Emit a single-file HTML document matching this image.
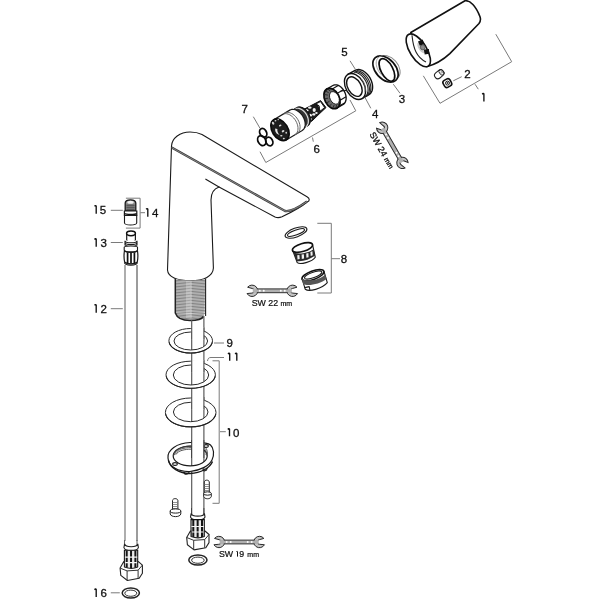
<!DOCTYPE html>
<html><head><meta charset="utf-8">
<style>
html,body{margin:0;padding:0;background:#fff;width:600px;height:600px;overflow:hidden}
svg{display:block;will-change:transform}
text{font-family:"Liberation Sans",sans-serif;fill:#111;stroke:#111;stroke-width:0.3}
.o{fill:none;stroke:#1a1a1a;stroke-width:1.1;stroke-linejoin:round;stroke-linecap:round}
.b{fill:none;stroke:#111;stroke-width:1.6;stroke-linejoin:round;stroke-linecap:round}
.w{fill:#fff;stroke:#1a1a1a;stroke-width:1.1;stroke-linejoin:round}
.wb{fill:#fff;stroke:#111;stroke-width:1.6;stroke-linejoin:round}
.l{fill:none;stroke:#7a7a7a;stroke-width:1}
.g{fill:none;stroke:#888;stroke-width:0.7}
.lab{font-size:11.5px}
.sw{font-size:8.8px;stroke-width:0.22}
.mm{font-size:7px}
</style></head>
<body>
<svg width="600" height="600" viewBox="0 0 600 600">
<defs>
<g id="wr">
<path d="M-24.68,-3.59 A5.70,5.70 0 1,1 -25.24,2.76 L-20.45,2.29 A2.30,2.30 0 0,0 -20.05,-2.29 Z M25.24,2.76 A5.70,5.70 0 1,1 24.68,-3.59 L20.05,-2.29 A2.30,2.30 0 0,0 20.45,2.29 Z" fill="#c4c4c4" stroke="#2a2a2a" stroke-width="1"/>
<rect x="-19.5" y="-1.9" width="39" height="3.8" fill="#b0b0b0"/>
<path d="M-15.4,-1.9 H15.4 M-15.4,1.9 H15.4" stroke="#2a2a2a" stroke-width="0.95"/>
<circle cx="-12.5" cy="0" r="0.95" fill="#fff"/><circle cx="-8.5" cy="0" r="0.95" fill="#fff"/>
<circle cx="12.5" cy="0" r="0.95" fill="#fff"/><circle cx="8.5" cy="0" r="0.95" fill="#fff"/>
</g>
<g id="wr2">
<path d="M-25.94,-0.40 A5.70,5.70 0 1,1 -22.75,5.12 L-19.10,1.99 A2.30,2.30 0 0,0 -21.40,-1.99 Z M25.94,0.40 A5.70,5.70 0 1,1 22.75,-5.12 L19.10,-1.99 A2.30,2.30 0 0,0 21.40,1.99 Z" fill="#c4c4c4" stroke="#2a2a2a" stroke-width="1"/>
<rect x="-19.5" y="-1.9" width="39" height="3.8" fill="#b0b0b0"/>
<path d="M-15.4,-1.9 H15.4 M-15.4,1.9 H15.4" stroke="#2a2a2a" stroke-width="0.95"/>
<circle cx="-12.5" cy="0" r="0.95" fill="#fff"/><circle cx="-8.5" cy="0" r="0.95" fill="#fff"/>
<circle cx="12.5" cy="0" r="0.95" fill="#fff"/><circle cx="8.5" cy="0" r="0.95" fill="#fff"/>
</g>
</defs>

<!-- ===== Faucet body ===== -->
<path class="w" d="M167.5,270 L171.5,146 C172,138 180,132 190,132 C195,132 199,133 202,134.5 L307,196.8 C310,198.5 310,201 307,202 C303,205.5 293,211.5 282,216.8 C279,218 277,217.8 275,217 L219,187 C213,189 211,194 211,200 L213.4,268 C213,276 204,280.8 190.5,280.8 C177,280.8 168,277 167.5,270 Z"/>
<path d="M205.8,179.2 L219,187" class="o"/>
<path d="M171.7,147.6 L285,211 C290,212 300,206.5 307,201.5" fill="none" stroke="#3a3a3a" stroke-width="2.3"/>
<path d="M171.7,147.6 L285,211 C290,212 300,206.5 307,201.5" fill="none" stroke="#bbb" stroke-width="0.6"/>

<!-- threads -->
<g>
<path d="M175.3,278.7 L175.3,313 C177,318 182,320.5 190,320.5 C197,320.5 202,319 203.5,316.5 L205.6,278.7 C200,281 182,281 175.3,278.7 Z" fill="#d6d6d6"/>
<path stroke="#6e6e6e" stroke-width="0.8" fill="none" d="M175.5,280.3 Q190.5,281.9 205.5,280.3 M175.5,281.8 Q190.5,283.4 205.5,281.8 M175.5,283.3 Q190.5,284.9 205.5,283.3 M175.5,284.8 Q190.5,286.4 205.5,284.8 M175.5,286.3 Q190.5,287.9 205.5,286.3 M175.5,287.8 Q190.5,289.4 205.5,287.8 M175.5,289.3 Q190.5,290.9 205.5,289.3 M175.5,290.8 Q190.5,292.4 205.5,290.8 M175.5,292.3 Q190.5,293.9 205.5,292.3 M175.5,293.8 Q190.5,295.4 205.5,293.8 M175.5,295.3 Q190.5,296.9 205.5,295.3 M175.5,296.8 Q190.5,298.4 205.5,296.8 M175.5,298.3 Q190.5,299.9 205.5,298.3 M175.5,299.8 Q190.5,301.4 205.5,299.8 M175.5,301.3 Q190.5,302.9 205.5,301.3 M175.5,302.8 Q190.5,304.4 205.5,302.8 M175.5,304.3 Q190.5,305.9 205.5,304.3 M175.5,305.8 Q190.5,307.4 205.5,305.8 M175.5,307.3 Q190.5,308.9 205.5,307.3 M175.5,308.8 Q190.5,310.4 205.5,308.8 M175.5,310.3 Q190.5,311.9 205.5,310.3 M175.5,311.8 Q190.5,313.4 205.5,311.8 M176,313.6 Q190.5,315.2 205,313.6 M177,315.1 Q190.5,316.7 204,315.1 M178.5,316.6 Q190.5,318.2 203,316.6 M181,318.1 Q190.5,319.7 201.5,318.1"/>
<rect x="186" y="281" width="6" height="37" fill="#fff" opacity="0.25"/>
<path d="M175.3,278.5 L175.3,313 C177,318 182,320.5 190,320.5 C197,320.5 202,319 203.5,316.5" fill="none" stroke="#222" stroke-width="1.5"/>
<path d="M205.6,278.5 L205.6,316" fill="none" stroke="#222" stroke-width="1.1"/>
</g>

<!-- rod -->
<path d="M191.7,320 L191.7,516 M203.9,316 L203.9,516" fill="none" stroke="#555" stroke-width="1.15"/>

<!-- washer 9 -->
<g>
<path fill="#fff" fill-rule="evenodd" stroke="#2a2a2a" stroke-width="1" d="M168.90,340.80 A21.8,12.3 0 1,0 212.50,340.80 A21.8,12.3 0 1,0 168.90,340.80 Z M174.00,341.00 A16.8,9 0 1,0 207.60,341.00 A16.8,9 0 1,0 174.00,341.00 Z"/>
<path d="M169.10,342.40 A21.8,12.3 0 0,0 212.30,342.40" fill="none" stroke="#222" stroke-width="1.05"/>
<rect x="191.7" y="327.50" width="12.2" height="11.80" fill="#fff"/><path d="M191.7,327.50 V339.30 M203.9,327.50 V339.30" stroke="#555" stroke-width="1.15"/>
</g>
<!-- washer 11 -->
<g>
<path fill="#fff" fill-rule="evenodd" stroke="#2a2a2a" stroke-width="1" d="M166.00,374.80 A24.7,13.6 0 1,0 215.40,374.80 A24.7,13.6 0 1,0 166.00,374.80 Z M173.30,375.00 A17.7,10 0 1,0 208.70,375.00 A17.7,10 0 1,0 173.30,375.00 Z"/>
<path d="M166.20,376.40 A24.7,13.6 0 0,0 215.20,376.40" fill="none" stroke="#222" stroke-width="1.05"/>
<rect x="191.7" y="360.20" width="12.2" height="12.10" fill="#fff"/><path d="M191.7,360.20 V372.30 M203.9,360.20 V372.30" stroke="#555" stroke-width="1.15"/>
</g>
<!-- washer 10 -->
<g>
<path fill="#fff" fill-rule="evenodd" stroke="#2a2a2a" stroke-width="1" d="M165.40,412.50 A25.3,14.5 0 1,0 216.00,412.50 A25.3,14.5 0 1,0 165.40,412.50 Z M173.40,412.00 A17.3,9.7 0 1,0 208.00,412.00 A17.3,9.7 0 1,0 173.40,412.00 Z"/>
<path d="M165.60,414.10 A25.3,14.5 0 0,0 215.80,414.10" fill="none" stroke="#222" stroke-width="1.05"/>
<rect x="191.7" y="397.00" width="12.2" height="12.60" fill="#fff"/><path d="M191.7,397.00 V409.60 M203.9,397.00 V409.60" stroke="#555" stroke-width="1.15"/>
</g>

<!-- mounting plate -->
<g>
<path fill="#fff" fill-rule="evenodd" stroke="#1a1a1a" stroke-width="1.2" d="M168,458 C167,450 177,443 190,442.5 C199,442 207,442 210.5,445 C214,448 214.5,455 212,460 C209,466 200,470.5 190,471.5 C179,472 168.5,467 168,458 Z M173.2,456 A17,9.8 0 1,0 207.2,456 A17,9.8 0 1,0 173.2,456 Z"/>
<path d="M173.5,456 C174,449 184,446 191,446 M174.5,455 C176,449.5 184,447.6 191,447.6 M176,454.5 C178,450.5 185,449.2 191,449.2 M204,446.6 C207,448 208,452 207,456 M204,448.4 C206,449.5 206.6,452 206,455" fill="none" stroke="#444" stroke-width="0.9"/>
<path d="M168.5,460.5 C170,467.5 179,473.5 190,473.5 C201,473 210,468 212.5,461.5" fill="none" stroke="#1a1a1a" stroke-width="1.4"/>
<ellipse cx="175" cy="464" rx="2.3" ry="1.4" class="o" stroke-width="0.9"/>
<ellipse cx="206" cy="446" rx="2.3" ry="1.4" class="o" stroke-width="0.9"/>
<path d="M184,472 C184,475 188,475 189,472.5 M203,469 C203,472 207,471 207,468.5" class="o" stroke-width="0.9"/>
<rect x="191.7" y="440" width="12.1" height="18" fill="#fff"/>
<path d="M191.7,440 V458 M203.8,440 V458" stroke="#333" stroke-width="1.05"/>
</g>

<!-- screws -->
<g>
<path d="M204.3,493 V482 C204.5,479.5 209,479.5 209.3,482 V493 Z" fill="#fff" stroke="#222" stroke-width="1"/>
<path d="M204.5,484.5 h4.6 M204.5,486.5 h4.6 M204.5,488.5 h4.6 M204.5,490.5 h4.6" stroke="#777" stroke-width="0.8"/>
<path d="M203.7,493.5 V496.5 C204.5,499.5 210.5,499.5 211.3,496.5 V493.5" fill="#fff" stroke="#222" stroke-width="1"/>
<ellipse cx="207.5" cy="493.5" rx="3.8" ry="1.7" fill="#fff" stroke="#222" stroke-width="1"/>
<path d="M172.5,510 V500.5 C172.7,498 177.6,498 177.9,500.5 V510 Z" fill="#fff" stroke="#222" stroke-width="1"/>
<path d="M172.7,502.5 h5 M172.7,504.5 h5 M172.7,506.5 h5 M172.7,508.5 h5" stroke="#777" stroke-width="0.8"/>
<path d="M170.2,511 V514 C171,517.5 180,517.5 180.8,514 V511" fill="#fff" stroke="#222" stroke-width="1"/>
<ellipse cx="175.5" cy="511" rx="5.3" ry="2.1" fill="#fff" stroke="#222" stroke-width="1"/>
</g>

<!-- bottom connection + nut -->
<g>
<rect x="191.7" y="508" width="12.1" height="8" fill="#fff"/>
<path d="M191.7,508 V514 M203.8,508 V514" stroke="#333" stroke-width="1.05"/>
<g id="fit">
<path d="M191.2,513.3 C192,517 203.5,517 204.4,513.3 L205,517 C203.5,521 192,521 190.5,517 Z" fill="#fff" stroke="#222" stroke-width="1.1"/>
<path d="M191,519.6 L204.3,519.6 L204.3,538 L191,538 Z" fill="#e8e8e8" stroke="#111" stroke-width="1.1"/>
<path d="M193.3,520 V537.5 M197.65,520 V537.5 M202,520 V537.5" stroke="#151515" stroke-width="2"/>
<path d="M191.5,526.5 H203.8 M191.5,532 H203.8" stroke="#f4f4f4" stroke-width="1.1"/>
<path d="M186.7,537.5 L190.4,531 L191,531 L191,536.5 C195,538 201,538 204.3,536.5 L204.3,531 L205,531 L209,534.5 L209,542.6 L205.8,547.7 L194,549.9 L187.4,544.8 Z" fill="#fff" stroke="#222" stroke-width="1.1" stroke-linejoin="round"/>
<path d="M186.7,537.5 L193.7,540.3 L204.7,539.6 L209,534.5 M193.7,540.3 V549.5 M204.7,539.6 V547.8" fill="none" stroke="#333" stroke-width="1"/>
</g>
<ellipse cx="197.9" cy="560" rx="9.1" ry="5.1" fill="none" stroke="#222" stroke-width="1.5"/>
<ellipse cx="197.9" cy="560.2" rx="6.3" ry="3.1" fill="none" stroke="#333" stroke-width="1"/>
</g>

<!-- SW 19 wrench -->
<use href="#wr" transform="translate(239.2 542)"/>
<text x="219" y="556.5" class="sw">SW</text><path d="M236.30,551.80 C236.80,551.20 237.20,551.00 237.50,551.55 V556.60" fill="none" stroke="#111" stroke-width="1.0"/><text x="239.3" y="556.5" class="sw">9</text><text x="247.3" y="556.5" class="sw mm">mm</text>

<!-- labels center -->
<text x="226.5" y="346.7" class="lab">9</text>
<path d="M228.00,353.90 C228.70,353.20 229.30,352.90 229.70,353.60 V360.80" fill="none" stroke="#111" stroke-width="1.35"/><path d="M235.10,353.90 C235.80,353.20 236.40,352.90 236.80,353.60 V360.80" fill="none" stroke="#111" stroke-width="1.35"/>
<path d="M227.80,429.40 C228.50,428.70 229.10,428.40 229.50,429.10 V436.30" fill="none" stroke="#111" stroke-width="1.35"/><text x="233.0" y="436.7" class="lab">0</text>
<path d="M214,343 H224 M207.5,361 C208,358 209,357.5 211,357.5 H224 M212.5,360.8 H219.2 V503.3 H212.5 M220,431.7 H225.8" class="l"/>

<!-- ===== left hose ===== -->
<path d="M125,265 L125,546" fill="none" stroke="#777" stroke-width="1.2"/><path d="M137,265 L137,546" fill="none" stroke="#5a5a5a" stroke-width="1.2"/>
<!-- 15 -->
<g>
<path d="M125.2,203 C125.2,198.8 135.8,198.8 135.8,203 L135.8,211 L125.2,211 Z" fill="#8c8c8c" stroke="#1a1a1a" stroke-width="1.3"/>
<ellipse cx="130.5" cy="202.3" rx="3.2" ry="1.5" fill="#f0f0f0"/>
<path d="M126.3,205.2 H134.7 M126.3,207.2 H134.7 M126.3,209.2 H134.7" stroke="#3a3a3a" stroke-width="0.9"/>
<path d="M124.4,211 L136.8,211 L136.8,215.5 L124.4,215.5 Z" fill="#fff" stroke="#1a1a1a" stroke-width="1.2"/>
<path d="M124.4,213.6 C126,214.8 135,214.8 136.8,213.6" fill="none" stroke="#111" stroke-width="1.3"/>
<path d="M124.5,215.5 L136.7,215.5 L136.7,223 C136.3,225.6 125,225.6 124.5,223 Z" class="w"/>
</g>
<path d="M125.9,198.2 H140.1 V228.1 H125.9" class="l"/>
<!-- 13 -->
<g>
<path d="M126.7,233.3 L126.7,240 C127,242.5 135,242.5 135.4,240 L135.4,233.3 Z" fill="#fff" stroke="#1a1a1a" stroke-width="1.2"/>
<ellipse cx="131" cy="233.3" rx="4.4" ry="2.4" fill="#fff" stroke="#111" stroke-width="1.5"/>
<path d="M125,240.5 L137,240.5 L137,247 L125,247 Z" fill="#fff"/>
<path d="M125,240.8 C125.5,243.4 136.5,243.4 137,240.8 M125,242.6 C125.5,245.2 136.5,245.2 137,242.6 M125,244.4 C125.5,247.0 136.5,247.0 137,244.4 M125,240.8 V245.5 M137,240.8 V245.5" fill="none" stroke="#1a1a1a" stroke-width="1.1"/>
<path d="M124.2,247.2 C124.5,245.5 137.2,245.5 137.5,247.2 L137.5,250 C137.2,252.5 124.5,252.5 124.2,250 Z" fill="#fff" stroke="#1a1a1a" stroke-width="1.1"/>
<path d="M124.4,251 C123.8,255 123.8,258 124.6,262 C127,264.5 135,264.5 137.3,262 C138.1,258 138.1,255 137.5,251 C135,253 127,253 124.4,251 Z" fill="#fff" stroke="#1a1a1a" stroke-width="1.2"/>
<path d="M127.6,252.5 V263 M131,252.8 V263.5 M134.4,252.5 V263" stroke="#111" stroke-width="1.7"/>
<path d="M124.4,262.5 C124.6,266 137.2,266 137.3,262.5" fill="none" stroke="#1a1a1a" stroke-width="1.1"/>
</g>
<!-- bottom fittings -->
<rect x="123" y="541" width="16" height="6" fill="#fff"/>
<path d="M124.5,540 V545 M137,540 V545" fill="none" stroke="#666" stroke-width="1.05"/>
<use href="#fit" transform="translate(-66.6 30.6)"/>
<ellipse cx="130.8" cy="593" rx="8.6" ry="5.1" fill="none" stroke="#222" stroke-width="1.5"/>
<ellipse cx="130.8" cy="593.2" rx="6" ry="3.1" fill="none" stroke="#333" stroke-width="1"/>
<!-- labels left -->
<path d="M94.50,206.30 C95.20,205.60 95.80,205.30 96.20,206.00 V213.70" fill="none" stroke="#111" stroke-width="1.35"/><text x="99.8" y="214.2" class="lab">5</text>
<path d="M146.10,209.30 C146.80,208.60 147.40,208.30 147.80,209.00 V216.70" fill="none" stroke="#111" stroke-width="1.35"/><text x="151.9" y="217.2" class="lab">4</text>
<path d="M94.50,239.40 C95.20,238.70 95.80,238.40 96.20,239.10 V246.80" fill="none" stroke="#111" stroke-width="1.35"/><text x="100.4" y="247.2" class="lab">3</text>
<path d="M94.50,305.30 C95.20,304.60 95.80,304.30 96.20,305.00 V312.70" fill="none" stroke="#111" stroke-width="1.35"/><text x="100.5" y="313" class="lab">2</text>
<path d="M94.50,589.70 C95.20,589.00 95.80,588.70 96.20,589.40 V597.10" fill="none" stroke="#111" stroke-width="1.35"/><text x="100.4" y="597.2" class="lab">6</text>
<path d="M110.8,210.3 H122.8 M140.3,212.7 H145 M110.8,242.5 H122.8 M110.8,308.7 H122.8 M110.8,592.8 H119.8" class="l"/>

<!-- ===== aerator 8 ===== -->
<g>
<ellipse cx="296" cy="232.5" rx="11.5" ry="4.5" transform="rotate(-20 296 232.5)" class="o" stroke-width="1.4"/>
<ellipse cx="296" cy="232.5" rx="9" ry="2.5" transform="rotate(-20 296 232.5)" class="o" stroke-width="1.2"/>
</g>
<g>
<path d="M292.7,250.5 L297.3,262.7 C300,265 312,262 315.3,257.3 L312.7,245.3" class="w"/>
<ellipse cx="302.5" cy="247.5" rx="10.5" ry="4" transform="rotate(-17 302.5 247.5)" class="wb" stroke-width="1.8"/>
<path d="M293.6,252.6 C300,255 309,252.5 313.6,249.2 L315,255.5 C310,259.5 302,262 296.6,261 Z" fill="#2a2a2a"/>
<path d="M297.2,255.2 l2.2,-0.3 l0.3,4.2 l-2.2,0.4 Z M301.6,254.6 l2.3,-0.4 l0.2,4.3 l-2.3,0.4 Z M306.2,253.6 l2.2,-0.6 l0.2,4.2 l-2.2,0.6 Z M310.4,252 l2,-0.8 l0.3,4 l-2,0.8 Z" fill="#f0f0f0"/>
</g>
<g>
<path d="M302,278.7 L305.3,289.3 C309,292 322,289 327.3,282.7 L324,271.3" class="w"/>
<ellipse cx="313" cy="275.2" rx="11.6" ry="4.3" transform="rotate(-20 313 275.2)" class="wb" stroke-width="1.7"/>
<ellipse cx="313.2" cy="275" rx="9.2" ry="2.7" transform="rotate(-20 313.2 275)" class="o"/>
<path d="M301.8,278.4 C306,281.6 318,281.2 325.2,274.4 L326.6,279 C320,284 308,286.6 303.2,284 Z" fill="#555"/>
<path d="M304.8,287.6 L309.2,286.6 L309.8,289.6" class="o"/>
</g>
<path d="M317.3,223.3 H331.3 V293 H317.3 M331.3,258.7 H340" class="l"/>
<text x="340.7" y="263.1" class="lab">8</text>
<!-- SW 22 wrench -->
<use href="#wr" transform="translate(272.3 290.8)"/>
<text x="251.7" y="306" class="sw">SW 22 <tspan class="mm">mm</tspan></text>

<!-- ===== top parts ===== -->
<!--GEN-START-->
<path d="M303.5,109.5 L320.6,100.6 L326,107.6 L320,113.2 L311.5,121.5 Z" fill="#1c1c1c" stroke="#111" stroke-width="1"/>
<path d="M316.6,103.6 L320.5,101.6 L324.6,107.5 L320.4,111 Z" fill="#fff" stroke="#111" stroke-width="0.9"/>
<path d="M316.5,105.5 C319,104.5 320.5,107.5 318.5,109.5" fill="none" stroke="#111" stroke-width="1.1"/>
<ellipse cx="306.6" cy="110.6" rx="1.9" ry="1.3" fill="#f2f2f2"/>
<ellipse cx="309.8" cy="107.6" rx="1.8" ry="1.2" fill="#f2f2f2"/>
<ellipse cx="310.0" cy="115.2" rx="2.0" ry="1.5" fill="#f2f2f2"/>
<ellipse cx="314.2" cy="110.0" rx="1.6" ry="2.0" fill="#f2f2f2"/>
<ellipse cx="313.8" cy="114.4" rx="1.6" ry="1.2" fill="#f2f2f2"/>
<ellipse cx="310.4" cy="119.0" rx="1.4" ry="1.0" fill="#f2f2f2"/>
<ellipse cx="316.4" cy="113.0" rx="1.3" ry="1.1" fill="#f2f2f2"/>
<path d="M301.49,129.37 L307.49,125.87 L308.26,125.31 L308.93,124.61 L309.48,123.77 L309.90,122.81 L310.19,121.75 L310.34,120.61 L310.34,119.40 L310.21,118.15 L309.93,116.87 L309.51,115.59 L308.97,114.34 L308.31,113.12 L307.54,111.97 L306.67,110.90 L305.73,109.93 L304.72,109.08 L303.66,108.36 L302.58,107.79 L301.49,107.37 L300.40,107.11 L299.35,107.01 L298.33,107.09 L297.38,107.33 L296.51,107.73 L290.51,111.23 Z" fill="#3a3a3a" stroke="#111" stroke-width="1"/>
<ellipse cx="302.00" cy="116.80" rx="7.30" ry="10.60" transform="rotate(-32.0 302.00 116.80)" fill="#333" stroke="#111" stroke-width="1" />
<ellipse cx="296.00" cy="120.30" rx="7.30" ry="10.60" transform="rotate(-32.0 296.00 120.30)" fill="#555" stroke="#111" stroke-width="1" />
<path d="M295.52,108.48 L296.62,108.25 L297.80,108.23 L299.03,108.44 L300.28,108.86 L301.53,109.48 L302.74,110.30 L303.89,111.28 L304.95,112.42 L305.90,113.69 L306.72,115.05 L307.39,116.48 L307.89,117.94 L308.21,119.40 L308.35,120.83 L308.31,122.20 L308.07,123.47 L307.66,124.62 L307.07,125.63 L306.32,126.46 L305.43,127.10" fill="none" stroke="#ddd" stroke-width="1.2"/>
<path d="M286.20,139.95 L302.20,130.45 L303.04,129.84 L303.75,129.06 L304.33,128.14 L304.77,127.08 L305.06,125.90 L305.19,124.63 L305.17,123.28 L304.99,121.88 L304.65,120.46 L304.17,119.03 L303.55,117.63 L302.79,116.27 L301.93,114.98 L300.96,113.78 L299.90,112.69 L298.78,111.73 L297.61,110.92 L296.42,110.27 L295.21,109.79 L294.02,109.49 L292.87,109.38 L291.77,109.45 L290.74,109.71 L289.80,110.15 L273.80,119.65 Z" fill="#fff" stroke="#1a1a1a" stroke-width="1.2"/>
<path d="M282.98,114.21 L284.15,113.80 L285.44,113.65 L286.80,113.76 L288.21,114.13 L289.63,114.75 L291.04,115.60 L292.39,116.68 L293.65,117.93 L294.80,119.35 L295.81,120.90 L296.64,122.53 L297.29,124.21 L297.74,125.90 L297.97,127.56 L297.98,129.15 L297.77,130.62 L297.34,131.96 L296.72,133.11 L295.90,134.06 L294.91,134.78" fill="none" stroke="#666" stroke-width="1.0"/>
<path d="M285.06,112.98 L286.23,112.57 L287.52,112.42 L288.88,112.53 L290.29,112.89 L291.71,113.51 L293.12,114.37 L294.47,115.44 L295.73,116.70 L296.88,118.12 L297.89,119.66 L298.72,121.30 L299.37,122.98 L299.82,124.67 L300.05,126.33 L300.06,127.91 L299.85,129.39 L299.42,130.72 L298.80,131.88 L297.98,132.83 L296.99,133.55" fill="none" stroke="#666" stroke-width="1.0"/>
<ellipse cx="280.00" cy="129.80" rx="7.90" ry="11.90" transform="rotate(-32.0 280.00 129.80)" fill="#1e1e1e" stroke="#0a0a0a" stroke-width="1.6" />
<path d="M275.2,128.6 C274.8,131.5 276.5,134.5 279.6,135 C277.8,133.2 277,131 277.4,129 Z" fill="#e6e6e6"/>
<ellipse cx="273.1" cy="123.2" rx="1.1" ry="1.6" transform="rotate(-30 273.1 123.2)" fill="#d8d8d8"/>
<ellipse cx="280.2" cy="125.5" rx="1.3" ry="0.9" transform="rotate(-20 280.2 125.5)" fill="#d8d8d8"/>
<ellipse cx="283.1" cy="131.2" rx="1.4" ry="1.0" transform="rotate(-30 283.1 131.2)" fill="#d8d8d8"/>
<ellipse cx="281.3" cy="135.8" rx="1.2" ry="0.8" transform="rotate(0 281.3 135.8)" fill="#d8d8d8"/>
<ellipse cx="283.8" cy="138.6" rx="1.0" ry="0.8" transform="rotate(0 283.8 138.6)" fill="#d8d8d8"/>
<ellipse cx="275.5" cy="120.8" rx="0.9" ry="0.7" transform="rotate(0 275.5 120.8)" fill="#d8d8d8"/>
<ellipse cx="278.2" cy="119.6" rx="0.8" ry="0.6" transform="rotate(0 278.2 119.6)" fill="#d8d8d8"/>
<ellipse cx="286.2" cy="132.8" rx="0.8" ry="1.0" transform="rotate(0 286.2 132.8)" fill="#d8d8d8"/>
<ellipse cx="263.20" cy="132.80" rx="3.30" ry="4.60" transform="rotate(-28.0 263.20 132.80)" fill="none" stroke="#0a0a0a" stroke-width="1.8" />
<ellipse cx="261.80" cy="140.60" rx="3.80" ry="5.20" transform="rotate(-28.0 261.80 140.60)" fill="none" stroke="#0a0a0a" stroke-width="1.8" />
<ellipse cx="269.30" cy="141.50" rx="3.30" ry="4.50" transform="rotate(-28.0 269.30 141.50)" fill="none" stroke="#0a0a0a" stroke-width="1.8" />
<path d="M337.15,107.99 L343.15,104.49 L343.93,103.93 L344.61,103.21 L345.17,102.36 L345.62,101.38 L345.93,100.29 L346.10,99.11 L346.14,97.86 L346.04,96.56 L345.80,95.23 L345.43,93.90 L344.93,92.59 L344.31,91.32 L343.58,90.11 L342.76,88.99 L341.86,87.97 L340.89,87.07 L339.87,86.30 L338.82,85.69 L337.76,85.23 L336.70,84.94 L335.66,84.83 L334.66,84.88 L333.72,85.11 L332.85,85.51 L326.85,89.01 Z" fill="#fff" stroke="#111" stroke-width="1.3"/>
<path d="M332.20,88.90 L338.20,85.40" stroke="#111" stroke-width="1.1"/>
<path d="M337.40,93.34 L343.40,89.84" stroke="#111" stroke-width="1.1"/>
<path d="M340.06,100.21 L346.06,96.71" stroke="#111" stroke-width="1.1"/>
<path d="M338.93,106.27 L344.93,102.77" stroke="#111" stroke-width="1.1"/>
<ellipse cx="332.00" cy="98.50" rx="7.30" ry="10.80" transform="rotate(-27.0 332.00 98.50)" fill="#6a6a6a" stroke="#0a0a0a" stroke-width="1.7" />
<path d="M338.58,105.88 L338.20,103.56" stroke="#222" stroke-width="0.9"/>
<path d="M336.15,107.86 L336.47,104.99" stroke="#222" stroke-width="0.9"/>
<path d="M332.90,107.98 L334.13,105.05" stroke="#222" stroke-width="0.9"/>
<path d="M329.47,106.21 L331.64,103.73" stroke="#222" stroke-width="0.9"/>
<path d="M326.54,102.91 L329.51,101.28" stroke="#222" stroke-width="0.9"/>
<path d="M324.70,98.72 L328.14,98.20" stroke="#222" stroke-width="0.9"/>
<path d="M324.31,94.50 L327.83,95.10" stroke="#222" stroke-width="0.9"/>
<path d="M325.45,91.07 L328.62,92.60" stroke="#222" stroke-width="0.9"/>
<path d="M327.90,89.12 L330.37,91.19" stroke="#222" stroke-width="0.9"/>
<ellipse cx="334.40" cy="97.90" rx="4.38" ry="6.70" transform="rotate(-27.0 334.40 97.90)" fill="#fff" stroke="#111" stroke-width="0.8" />
<path d="M341,91 L345.7,90.5" class="o"/>
<path d="M361.98,98.64 L368.98,94.64 L369.96,93.94 L370.81,93.04 L371.50,91.97 L372.04,90.73 L372.40,89.35 L372.58,87.86 L372.58,86.27 L372.41,84.62 L372.05,82.93 L371.52,81.23 L370.83,79.56 L369.99,77.94 L369.01,76.39 L367.91,74.95 L366.71,73.64 L365.43,72.48 L364.09,71.49 L362.72,70.69 L361.33,70.09 L359.95,69.71 L358.61,69.54 L357.33,69.59 L356.13,69.87 L355.02,70.36 L348.02,74.36 Z" fill="#fff" stroke="#111" stroke-width="1.4"/>
<path d="M353.81,72.13 L355.39,72.30 L357.03,72.78 L358.67,73.56 L360.28,74.61 L361.82,75.91 L363.26,77.43 L364.56,79.14 L365.69,80.99 L366.62,82.94 L367.33,84.94 L367.81,86.94 L368.04,88.90 L368.01,90.77 L367.73,92.50 L367.20,94.06 L366.44,95.40 L365.46,96.49 L364.30,97.31 L362.96,97.84 L361.50,98.06" fill="none" stroke="#222" stroke-width="1.1"/>
<path d="M355.21,71.33 L356.79,71.50 L358.43,71.98 L360.07,72.76 L361.68,73.81 L363.22,75.11 L364.66,76.63 L365.96,78.34 L367.09,80.19 L368.02,82.14 L368.73,84.14 L369.21,86.14 L369.44,88.10 L369.41,89.97 L369.13,91.70 L368.60,93.26 L367.84,94.60 L366.86,95.69 L365.70,96.51 L364.36,97.04 L362.90,97.26" fill="none" stroke="#222" stroke-width="1.1"/>
<path d="M356.61,70.53 L358.19,70.70 L359.83,71.18 L361.47,71.96 L363.08,73.01 L364.62,74.31 L366.06,75.83 L367.36,77.54 L368.49,79.39 L369.42,81.34 L370.13,83.34 L370.61,85.34 L370.84,87.30 L370.81,89.17 L370.53,90.90 L370.00,92.46 L369.24,93.80 L368.26,94.89 L367.10,95.71 L365.76,96.24 L364.30,96.46" fill="none" stroke="#222" stroke-width="1.1"/>
<ellipse cx="355.00" cy="86.50" rx="9.20" ry="14.00" transform="rotate(-30.0 355.00 86.50)" fill="#fff" stroke="#111" stroke-width="1.4" />
<ellipse cx="354.40" cy="86.60" rx="6.60" ry="10.60" transform="rotate(-30.0 354.40 86.60)" fill="#fff" stroke="#111" stroke-width="1.4" />
<path d="M361.39,78.93 L361.89,79.54 L362.36,80.17 L362.80,80.82 L363.22,81.50 L363.60,82.20 L363.94,82.91 L364.25,83.63 L364.53,84.36 L364.76,85.09 L364.95,85.82 L365.10,86.55 L365.21,87.26 L365.27,87.96 L365.29,88.64 L365.27,89.30 L365.20,89.94 L365.09,90.55 L364.94,91.12 L364.75,91.66 L364.51,92.16" fill="none" stroke="#777" stroke-width="0.9"/>
<ellipse cx="388.50" cy="67.50" rx="13.80" ry="9.50" transform="rotate(48.0 388.50 67.50)" fill="#fff" stroke="#888" stroke-width="1" />
<ellipse cx="385.50" cy="69.00" rx="15.30" ry="10.00" transform="rotate(48.0 385.50 69.00)" fill="#fff" stroke="#111" stroke-width="1.7" />
<path d="M384.93,77.69 L383.59,76.71 L382.31,75.61 L381.12,74.40 L380.02,73.10 L379.04,71.73 L378.19,70.30 L377.47,68.84 L376.91,67.37 L376.51,65.90 L376.28,64.47 L376.21,63.08 L376.31,61.77 L376.58,60.55 L377.01,59.43 L377.61,58.44 L378.35,57.59 L379.23,56.88 L380.24,56.34 L381.36,55.96 L382.57,55.75" fill="none" stroke="#999" stroke-width="0.9"/>
<ellipse cx="386.90" cy="69.90" rx="12.40" ry="6.00" transform="rotate(62.0 386.90 69.90)" fill="none" stroke="#0a0a0a" stroke-width="1.7" />
<!--GEN-END-->
<path d="M253.3,116.7 L260,128.3 M260,151.7 L265.8,162.5 L355.8,110.8 L350,100 M312.5,137.5 L313.3,141.7" class="l"/>
<text x="241.6" y="112.6" class="lab">7</text>
<text x="313.6" y="152.6" class="lab">6</text>
<path d="M350,60.8 L355.8,70 M365,97.5 L370.8,108.3 M393.3,84.2 L400,93.3" class="l"/>
<text x="341.2" y="55.9" class="lab">5</text>
<text x="372" y="118.4" class="lab">4</text>
<text x="398.7" y="103.4" class="lab">3</text>
<!-- SW 24 wrench -->
<use href="#wr2" transform="translate(392.3 145.3) rotate(60)"/>
<text transform="translate(369.3 134.3) rotate(60)" class="sw" style="stroke-width:0.3">SW 24 <tspan class="mm">mm</tspan></text>
<!-- handle 1 -->
<g>
<path d="M410.8,32.5 L465,0.8 C470,0 476,6 480,16.7 C481,19.5 480.5,21.5 479,23.5 L449.8,53.6 C444,59 435,64.5 426.7,66.7 Z" class="wb" stroke-width="1.35"/>
<ellipse cx="418.3" cy="50.3" rx="18.6" ry="8.4" transform="rotate(58 418.3 50.3)" class="wb" stroke-width="1.9"/>
<path d="M412,35.2 C412.5,40 413,46 416,52 C418.5,57 422,60 426,62" fill="none" stroke="#222" stroke-width="1.1"/>
<ellipse cx="421.4" cy="47.8" rx="2.9" ry="6.2" transform="rotate(-32 421.4 47.8)" fill="#c8c8c8"/>
<path d="M418.8,41.8 L422.3,40.2 L423.6,43.6 L420.2,45 Z M424.6,50.2 L428.4,49.6 L428.6,53.2 L425.2,53.8 Z" fill="#111" stroke="#111" stroke-width="1.2"/>
<circle cx="422.8" cy="47.3" r="2.5" fill="#8a8a8a" stroke="#333" stroke-width="0.6"/>
</g>
<g>
<rect x="434.2" y="71" width="10" height="6.6" rx="3.2" transform="rotate(-40 439.2 74.3)" fill="#fff" stroke="#222" stroke-width="1.05"/>
<ellipse cx="441.6" cy="72.3" rx="2.2" ry="3.1" transform="rotate(-40 441.6 72.3)" fill="none" stroke="#222" stroke-width="0.9"/>
<circle cx="441.8" cy="72.2" r="0.9" fill="none" stroke="#555" stroke-width="0.6"/>
<rect x="443.4" y="79.2" width="7.8" height="7.8" rx="2.6" transform="rotate(-30 447.3 83.1)" fill="#fff" stroke="#111" stroke-width="1.6"/>
<circle cx="447.5" cy="83.1" r="2" fill="none" stroke="#222" stroke-width="1"/>
<circle cx="447.5" cy="83.1" r="1" fill="#333"/>
</g>
<path d="M423.3,75.8 L440,103.3 L511.7,61.7 L495.8,34.2 M475,84.2 L478.3,89.2 M453.3,80.8 L461.7,76.7" class="l"/>
<text x="464.3" y="77.7" class="lab">2</text>
<path d="M482.20,94.20 C482.90,93.50 483.50,93.20 483.90,93.90 V101.60" fill="none" stroke="#111" stroke-width="1.35"/>


</svg>
</body></html>
